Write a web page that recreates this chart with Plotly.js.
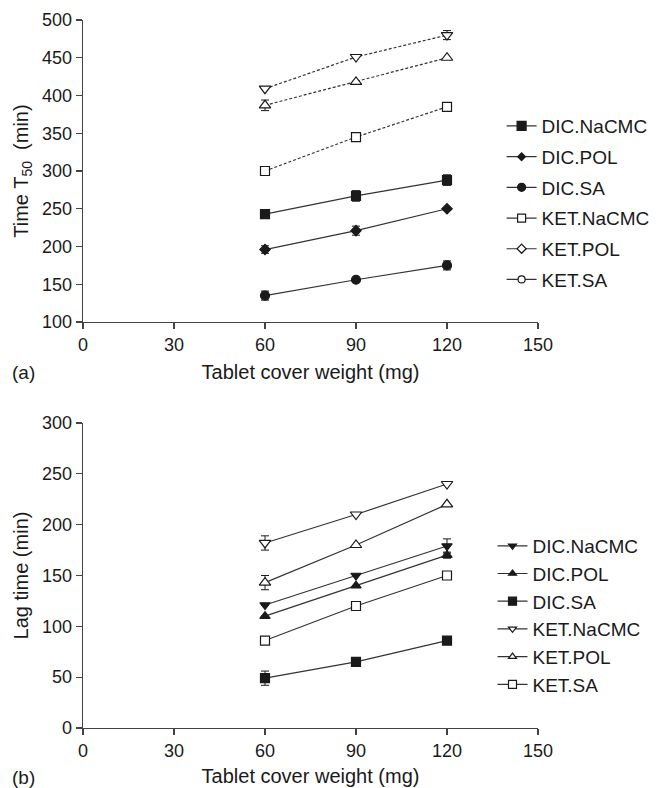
<!DOCTYPE html>
<html>
<head>
<meta charset="utf-8">
<script src="https://cdn.plot.ly/plotly-3.0.1.min.js"></script>
<style>html,body{margin:0;padding:0;background:#fff}#chart{width:661px;height:788px}</style>
</head>
<body>
<div id="chart"></div>
<script>
// ---- data ----
const weights = [60, 90, 120];

// (a) Time T50 (min)
const t50_DIC_NaCMC = [243, 267, 288];
const t50_DIC_NaCMC_err = [0, 7, 7];
const t50_DIC_POL = [196, 221, 250];
const t50_DIC_POL_err = [5, 6, 0];
const t50_DIC_SA = [135, 156, 175];
const t50_DIC_SA_err = [6, 0, 6];
const t50_KET_NaCMC = [409, 451, 480];
const t50_KET_NaCMC_err = [0, 0, 6];
const t50_KET_POL = [387, 418, 450];
const t50_KET_POL_err = [7, 0, 0];
const t50_KET_SA = [300, 345, 385];
const t50_KET_SA_err = [0, 0, 0];

// (b) Lag time (min)
const lag_DIC_NaCMC = [121, 150, 179];
const lag_DIC_NaCMC_err = [0, 0, 7];
const lag_DIC_POL = [110, 140, 170];
const lag_DIC_POL_err = [0, 0, 3];
const lag_DIC_SA = [49, 65, 86];
const lag_DIC_SA_err = [7, 0, 0];
const lag_KET_NaCMC = [182, 210, 240];
const lag_KET_NaCMC_err = [7, 0, 0];
const lag_KET_POL = [143, 180, 220];
const lag_KET_POL_err = [7, 0, 0];
const lag_KET_SA = [86, 120, 150];
const lag_KET_SA_err = [0, 0, 0];

const seriesNames = ['DIC.NaCMC', 'DIC.POL', 'DIC.SA', 'KET.NaCMC', 'KET.POL', 'KET.SA'];
const xTicks = [0, 30, 60, 90, 120, 150];

// ---- styling helpers ----
const INK = '#1a1a1a';
const LINE = '#333333';

function series(x, y, err, name, symbol, filled, size, dash, xa, ya, legend) {
  return {
    type: 'scatter', mode: 'lines+markers', x: x, y: y, name: name,
    xaxis: xa, yaxis: ya, legend: legend, showlegend: false,
    line: {color: LINE, width: 1.2, dash: dash},
    marker: {symbol: symbol, size: size, color: filled ? INK : '#ffffff',
             line: {color: INK, width: 1.2}},
    error_y: {type: 'data', array: err, visible: true, color: INK, thickness: 1, width: 4},
    cliponaxis: false
  };
}
function legendItem(name, symbol, filled, size, legend, xa, ya) {
  return {
    type: 'scatter', mode: 'lines+markers', x: [null], y: [null], name: name,
    xaxis: xa, yaxis: ya, legend: legend, legendgroup: legend + name, showlegend: true,
    line: {color: LINE, width: 1.2},
    marker: {symbol: symbol, size: size, color: filled ? INK : '#ffffff',
             line: {color: INK, width: 1.2}}
  };
}

const traces = [
  // panel (a) data
  series(weights, t50_DIC_NaCMC, t50_DIC_NaCMC_err, seriesNames[0], 'square', true, 9, 'solid', 'x', 'y', 'legend'),
  series(weights, t50_DIC_POL, t50_DIC_POL_err, seriesNames[1], 'diamond', true, 8, 'solid', 'x', 'y', 'legend'),
  series(weights, t50_DIC_SA, t50_DIC_SA_err, seriesNames[2], 'circle', true, 9, 'solid', 'x', 'y', 'legend'),
  series(weights, t50_KET_NaCMC, t50_KET_NaCMC_err, seriesNames[3], 'triangle-down', false, 10, '3px,2px', 'x', 'y', 'legend'),
  series(weights, t50_KET_POL, t50_KET_POL_err, seriesNames[4], 'triangle-up', false, 10, '3px,2px', 'x', 'y', 'legend'),
  series(weights, t50_KET_SA, t50_KET_SA_err, seriesNames[5], 'square', false, 9, '3px,2px', 'x', 'y', 'legend'),
  // panel (a) legend keys as printed
  legendItem(seriesNames[0], 'square', true, 9, 'legend', 'x', 'y'),
  legendItem(seriesNames[1], 'diamond', true, 6, 'legend', 'x', 'y'),
  legendItem(seriesNames[2], 'circle', true, 8, 'legend', 'x', 'y'),
  legendItem(seriesNames[3], 'square', false, 8, 'legend', 'x', 'y'),
  legendItem(seriesNames[4], 'diamond', false, 7, 'legend', 'x', 'y'),
  legendItem(seriesNames[5], 'circle', false, 7, 'legend', 'x', 'y'),
  // panel (b) data
  series(weights, lag_DIC_NaCMC, lag_DIC_NaCMC_err, seriesNames[0], 'triangle-down', true, 9, 'solid', 'x2', 'y2', 'legend2'),
  series(weights, lag_DIC_POL, lag_DIC_POL_err, seriesNames[1], 'triangle-up', true, 9, 'solid', 'x2', 'y2', 'legend2'),
  series(weights, lag_DIC_SA, lag_DIC_SA_err, seriesNames[2], 'square', true, 9, 'solid', 'x2', 'y2', 'legend2'),
  series(weights, lag_KET_NaCMC, lag_KET_NaCMC_err, seriesNames[3], 'triangle-down', false, 10, 'solid', 'x2', 'y2', 'legend2'),
  series(weights, lag_KET_POL, lag_KET_POL_err, seriesNames[4], 'triangle-up', false, 10, 'solid', 'x2', 'y2', 'legend2'),
  series(weights, lag_KET_SA, lag_KET_SA_err, seriesNames[5], 'square', false, 9, 'solid', 'x2', 'y2', 'legend2'),
  // panel (b) legend keys
  legendItem(seriesNames[0], 'triangle-down', true, 7, 'legend2', 'x2', 'y2'),
  legendItem(seriesNames[1], 'triangle-up', true, 7, 'legend2', 'x2', 'y2'),
  legendItem(seriesNames[2], 'square', true, 8, 'legend2', 'x2', 'y2'),
  legendItem(seriesNames[3], 'triangle-down', false, 7, 'legend2', 'x2', 'y2'),
  legendItem(seriesNames[4], 'triangle-up', false, 7, 'legend2', 'x2', 'y2'),
  legendItem(seriesNames[5], 'square', false, 8, 'legend2', 'x2', 'y2')
];

const FONT = {family: '"Liberation Sans", Arial, sans-serif', size: 18, color: INK};
const TITLE_FONT = {family: '"Liberation Sans", Arial, sans-serif', size: 20, color: INK};
const axisCommon = {
  showline: true, linecolor: '#444', linewidth: 1.3, mirror: false,
  ticks: 'outside', ticklen: 6, tickwidth: 1.3, tickcolor: '#444',
  showgrid: false, zeroline: false, tickfont: {size: 18, color: INK},
  fixedrange: true, automargin: false
};

const layout = {
  width: 661, height: 788,
  margin: {l: 83, r: 123, t: 20, b: 60, autoexpand: false},
  paper_bgcolor: '#ffffff', plot_bgcolor: '#ffffff',
  font: FONT,
  showlegend: true,
  xaxis: Object.assign({}, axisCommon, {
    domain: [0, 1], anchor: 'y', range: [0, 150], tickvals: xTicks,
    title: {text: 'Tablet cover weight (mg)', font: TITLE_FONT, standoff: 11}
  }),
  yaxis: Object.assign({}, axisCommon, {
    domain: [0.5734, 1], anchor: 'x', range: [100, 500], dtick: 50,
    title: {text: 'Time T<sub>50</sub>  (min)', font: TITLE_FONT, standoff: 8}
  }),
  xaxis2: Object.assign({}, axisCommon, {
    domain: [0, 1], anchor: 'y2', range: [0, 150], tickvals: xTicks,
    title: {text: 'Tablet cover weight (mg)', font: TITLE_FONT, standoff: 9}
  }),
  yaxis2: Object.assign({}, axisCommon, {
    domain: [0, 0.4308], anchor: 'x2', range: [0, 300], dtick: 50,
    title: {text: 'Lag time (min)', font: TITLE_FONT, standoff: 8}
  }),
  legend: {
    x: 0.92, xanchor: 'left', y: 0.877, yanchor: 'top',
    font: {size: 19, color: INK}, traceorder: 'grouped', tracegroupgap: 3,
    bgcolor: 'rgba(0,0,0,0)', borderwidth: 0, itemwidth: 30
  },
  legend2: {
    x: 0.90, xanchor: 'left', y: 0.284, yanchor: 'top',
    font: {size: 19, color: INK}, traceorder: 'grouped', tracegroupgap: 0,
    bgcolor: 'rgba(0,0,0,0)', borderwidth: 0, itemwidth: 30
  },
  annotations: [
    {text: '(a)', xref: 'paper', yref: 'paper', x: -0.161, y: 0.5734, yshift: -50,
     xanchor: 'left', yanchor: 'middle', showarrow: false, font: {size: 19, color: INK}},
    {text: '(b)', xref: 'paper', yref: 'paper', x: -0.161, y: 0, yshift: -49,
     xanchor: 'left', yanchor: 'middle', showarrow: false, font: {size: 19, color: INK}}
  ]
};

Plotly.newPlot('chart', traces, layout, {displayModeBar: false, staticPlot: true});
</script>
</body>
</html>
